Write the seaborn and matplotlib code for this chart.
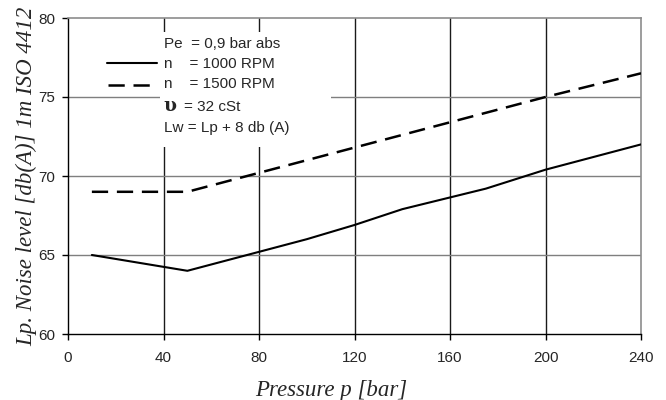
import numpy as np
import pandas as pd
import seaborn as sns
import matplotlib.pyplot as plt
from matplotlib.patches import Rectangle

# data
p_1000 = [10, 50, 80, 100, 120, 140, 175, 200, 210, 240]
lp_1000 = [65.0, 64.0, 65.2, 66.0, 66.9, 67.9, 69.2, 70.4, 70.8, 72.0]
p_1500 = [10, 50, 80, 120, 160, 200, 240]
lp_1500 = [69.0, 69.0, 70.2, 71.8, 73.4, 75.0, 76.5]

x_ticks = [0, 40, 80, 120, 160, 200, 240]
y_ticks = [60, 65, 70, 75, 80]
legend_rows = ['Pe  = 0,9 bar abs', 'n    = 1000 RPM', 'n    = 1500 RPM', '', 'Lw = Lp + 8 db (A)']

sns.set_style('white')
plt.rcParams['font.family'] = ['Liberation Sans', 'DejaVu Sans']

fig = plt.figure(figsize=(6.66, 4), dpi=100)
ax = fig.add_axes([0.1021, 0.165, 0.8604, 0.79])

sns.lineplot(x=p_1000, y=lp_1000, color='black', lw=1.5, ax=ax, zorder=4)
sns.lineplot(x=p_1500, y=lp_1500, color='black', lw=1.8, ax=ax, zorder=4,
             linestyle=(0, (6.5, 3.5)))

ax.set_xlim(0, 240)
ax.set_ylim(60, 80)
ax.set_xticks(x_ticks)
ax.set_yticks(y_ticks)
ax.tick_params(axis='both', direction='out', length=4, width=1, color='black',
               labelsize=11, bottom=True, left=True)
ax.tick_params(axis='x', pad=8.5)
ax.tick_params(axis='y', pad=5)

# grid: dark verticals, grey horizontals
for xv in x_ticks[1:-1]:
    ax.axvline(xv, color='#1a1a1a', lw=1, zorder=1)
for yv in y_ticks[1:-1]:
    ax.axhline(yv, color='#7f7f7f', lw=1, zorder=1)

for s in ['top', 'right']:
    ax.spines[s].set_color('#8c8c8c')
    ax.spines[s].set_linewidth(1.2)
for s in ['left', 'bottom']:
    ax.spines[s].set_color('black')
    ax.spines[s].set_linewidth(1)

# white box behind the notes
ax.add_patch(Rectangle((38.5, 71.85), 71.5, 7.25, facecolor='white', edgecolor='none', zorder=2))

# legend samples
ax.plot([16.3, 37.3], [77.15, 77.15], color='black', lw=1.5, zorder=3)
ax.plot([16.8, 37.3], [75.75, 75.75], color='black', lw=1.8, linestyle=(0, (6.5, 3.5)), zorder=3)

rows_y = [78.08, 76.82, 75.55, 74.13, 72.80]
for txt, yy in zip(legend_rows, rows_y):
    ax.text(40.2, yy, txt, fontsize=11, va='baseline', ha='left', zorder=5)
ax.text(40.0, 74.13, 'υ', fontsize=13.5, fontweight='bold', family=['DejaVu Serif'],
        va='baseline', ha='left', zorder=5)
ax.text(48.4, 74.13, '= 32 cSt', fontsize=11, va='baseline', ha='left', zorder=5)

ax.set_xlabel('Pressure p [bar]', fontsize=16.5, fontstyle='italic', family=['Liberation Serif'])
ax.set_ylabel('Lp. Noise level [db(A)] 1m ISO 4412', fontsize=16.5, fontstyle='italic',
              family=['Liberation Serif'])
ax.xaxis.set_label_coords(0.46, -0.145)
ax.yaxis.set_label_coords(-0.053, 0.5)

fig.savefig('out.png', dpi=100)
